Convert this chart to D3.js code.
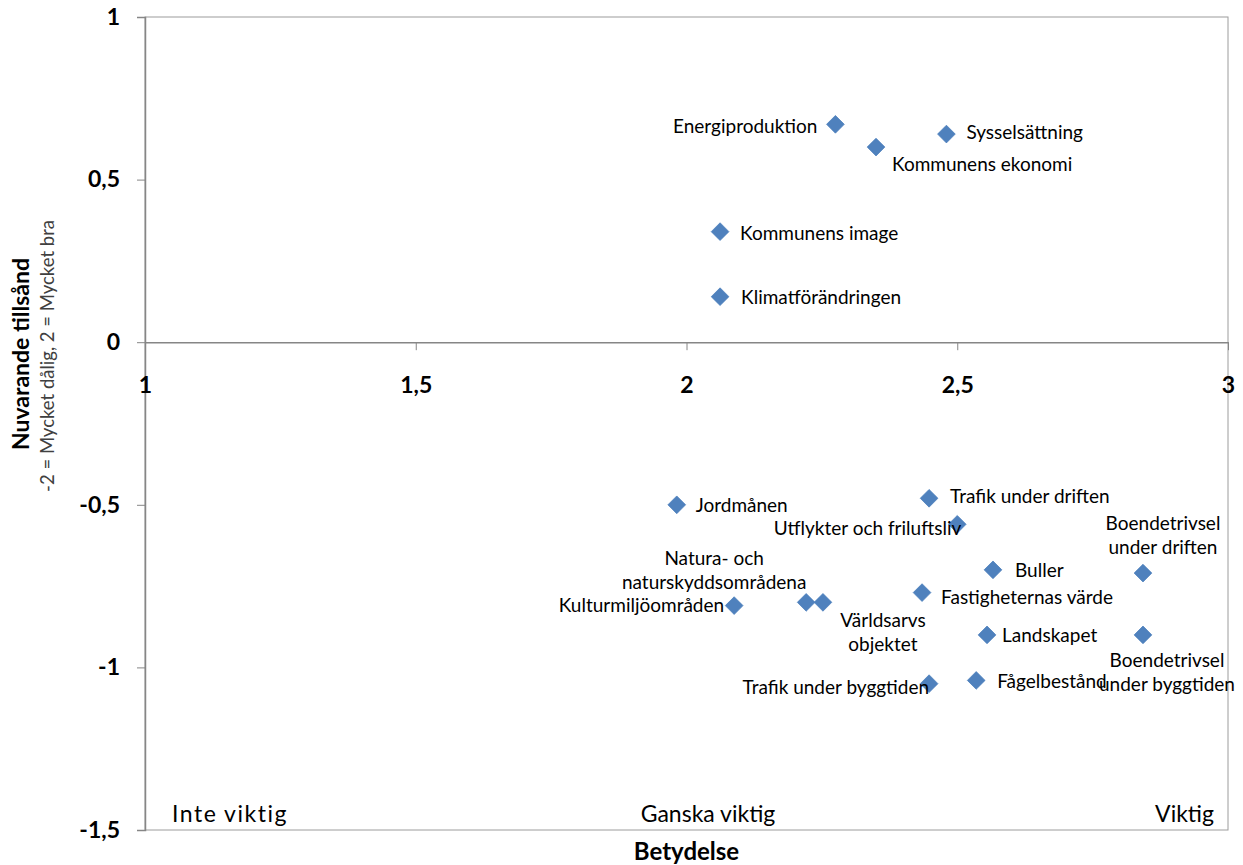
<!DOCTYPE html>
<html>
<head>
<meta charset="utf-8">
<script src="https://cdn.jsdelivr.net/npm/d3@7"></script>
<style>
  html, body { margin: 0; padding: 0; background: #fff; }
  svg { display: block; font-family: Lato, "Open Sans", sans-serif; }
</style>
</head>
<body>
<svg id="chart" width="1243" height="865"></svg>
<script>
// Aspects rated by importance (Betydelse, 1–3) and current state (-2..2)
const aspects = [
  "Energiproduktion", "Sysselsättning", "Kommunens ekonomi", "Kommunens image",
  "Klimatförändringen", "Jordmånen", "Trafik under driften", "Utflykter och friluftsliv",
  "Buller", "Boendetrivsel under driften", "Fastigheternas värde", "Kulturmiljöområden",
  "Natura- och naturskyddsområdena", "Världsarvs objektet", "Landskapet",
  "Boendetrivsel under byggtiden", "Fågelbestånd", "Trafik under byggtiden"
];
const importance = [2.275, 2.48, 2.35, 2.062, 2.062, 1.982, 2.448, 2.50, 2.566, 2.843, 2.435, 2.088, 2.221, 2.252, 2.555, 2.843, 2.535, 2.448];
const currentState = [0.67, 0.64, 0.60, 0.34, 0.14, -0.50, -0.48, -0.56, -0.70, -0.71, -0.77, -0.81, -0.80, -0.80, -0.90, -0.90, -1.04, -1.05];

// Text lines for each data label
const labelLines = [
  ["Energiproduktion"], ["Sysselsättning"], ["Kommunens ekonomi"], ["Kommunens image"],
  ["Klimatförändringen"], ["Jordmånen"], ["Trafik under driften"], ["Utflykter och friluftsliv"],
  ["Buller"], ["Boendetrivsel", "under driften"], ["Fastigheternas värde"], ["Kulturmiljöområden"],
  ["Natura- och", "naturskyddsområdena"], ["Världsarvs", "objektet"], ["Landskapet"],
  ["Boendetrivsel", "under byggtiden"], ["Fågelbestånd"], ["Trafik under byggtiden"]
];
// Label placement relative to the marker: [dx, dy of first line, anchor]
const labelPlacement = [
  [-18, 2, "end"], [20, -2, "start"], [16, 17, "start"], [20, 2, "start"],
  [21, 1, "start"], [19, 1, "start"], [21, -2, "start"], [4, 4, "end"],
  [22, 1, "start"], [20, -50, "middle"], [19, 5, "start"], [-10, 0, "end"],
  [-92, -44, "middle"], [60, 18, "middle"], [15, 0, "start"],
  [24, 25, "middle"], [21, 1, "start"], [0, 4, "end"]
];

const xTicks = [1, 1.5, 2, 2.5, 3];
const yTicks = [1, 0.5, 0, -0.5, -1, -1.5];
const importanceLevels = ["Inte viktig", "Ganska viktig", "Viktig"];

const fmt = v => String(v).replace(".", ",");

const svg = d3.select("#chart");
const plot = { left: 145, right: 1228, top: 17, bottom: 830 };

const x = d3.scaleLinear().domain([1, 3]).range([plot.left, plot.right]);
const y = d3.scaleLinear().domain([-1.5, 1]).range([plot.bottom, plot.top]);

// Plot area frame
svg.append("rect")
  .attr("x", plot.left).attr("y", plot.top)
  .attr("width", plot.right - plot.left).attr("height", plot.bottom - plot.top)
  .attr("fill", "none").attr("stroke", "#9c9c9c").attr("stroke-width", 1);

// Y axis on the left edge
const yAxis = svg.append("g")
  .attr("transform", `translate(${plot.left},0)`)
  .call(d3.axisLeft(y).tickValues(yTicks).tickSize(8).tickPadding(17).tickFormat(fmt));
yAxis.select(".domain").attr("stroke", "#868686").attr("stroke-width", 1.5);
yAxis.selectAll(".tick line").attr("stroke", "#868686");
yAxis.selectAll(".tick text")
  .attr("fill", "#000").style("font-size", "23px").style("font-weight", "bold")
  .style("font-family", "Lato, sans-serif");

// X axis crossing at y = 0
const xAxis = svg.append("g")
  .attr("transform", `translate(0,${y(0)})`)
  .call(d3.axisBottom(x).tickValues(xTicks).tickSize(8).tickSizeOuter(0).tickPadding(0).tickFormat(fmt));
xAxis.select(".domain").attr("stroke", "#868686").attr("stroke-width", 1.5);
xAxis.selectAll(".tick line").attr("stroke", "#868686");
xAxis.selectAll(".tick text")
  .attr("y", 43).attr("dy", "0.35em")
  .attr("fill", "#000").style("font-size", "23px").style("font-weight", "bold")
  .style("font-family", "Lato, sans-serif");

// Importance level captions along the bottom of the plot
const levelPos = [[172, "start", 1.5], [708, "middle", 0], [1214, "end", 0]];
svg.selectAll("text.level").data(importanceLevels).join("text")
  .attr("class", "level")
  .attr("x", (d, i) => levelPos[i][0])
  .attr("y", 822)
  .attr("text-anchor", (d, i) => levelPos[i][1])
  .style("letter-spacing", (d, i) => levelPos[i][2] + "px")
  .style("font-size", "23px").attr("fill", "#000")
  .text(d => d);

// Axis titles
svg.append("text")
  .attr("x", x(2)).attr("y", 860)
  .attr("text-anchor", "middle")
  .style("font-size", "24px").style("font-weight", "bold")
  .text("Betydelse");

const yTitle = svg.append("g").attr("transform", "translate(0,354) rotate(-90)");
yTitle.append("text")
  .attr("x", 0).attr("y", 29)
  .attr("text-anchor", "middle")
  .style("font-size", "23px").style("font-weight", "bold")
  .text("Nuvarande tillsånd");
yTitle.append("text")
  .attr("x", -2).attr("y", 54)
  .attr("text-anchor", "middle")
  .style("font-size", "18.5px").attr("fill", "#404040")
  .text("-2 = Mycket dålig, 2 = Mycket bra");

// Data points
const points = aspects.map((name, i) => ({
  name, bx: importance[i], cy: currentState[i], lines: labelLines[i], place: labelPlacement[i]
}));

const diamond = d3.symbol().type(d3.symbolDiamond2).size(200);
svg.append("g").selectAll("path").data(points).join("path")
  .attr("transform", d => `translate(${x(d.bx)},${y(d.cy)})`)
  .attr("d", diamond)
  .attr("fill", "#4f81bd")
  .attr("stroke", "#4a7ebb").attr("stroke-width", 0.75);

// Data labels
const labels = svg.append("g").selectAll("text").data(points).join("text")
  .attr("text-anchor", d => d.place[2])
  .style("font-size", "19px").attr("fill", "#000");
labels.each(function (d) {
  const t = d3.select(this);
  d.lines.forEach((line, k) => {
    t.append("tspan")
      .attr("x", x(d.bx) + d.place[0])
      .attr("y", y(d.cy) + d.place[1] + k * 24)
      .attr("dy", "0.35em")
      .text(line);
  });
});
</script>
</body>
</html>
